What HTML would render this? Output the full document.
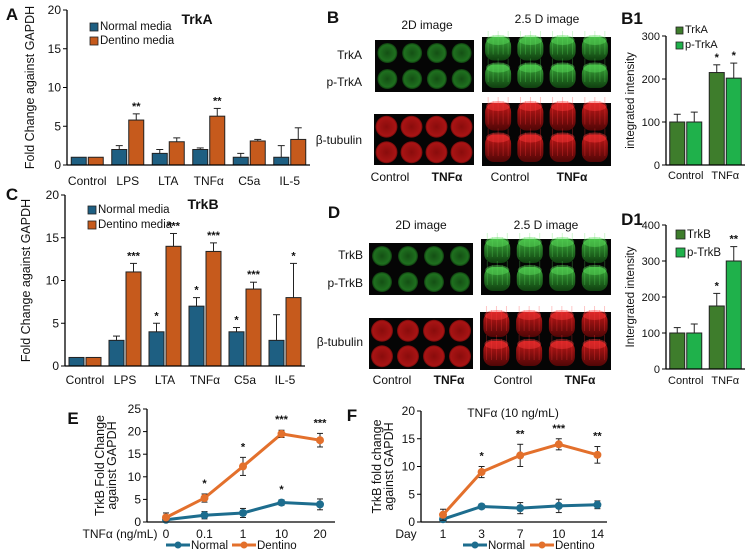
<!DOCTYPE html>
<html><head><meta charset="utf-8">
<style>
html,body{margin:0;padding:0;background:#fff;}
svg{display:block;font-family:"Liberation Sans",Arial,sans-serif;}
</style></head>
<body>
<svg id="fig" width="750" height="556" viewBox="0 0 750 556" xmlns="http://www.w3.org/2000/svg">
<defs>
<radialGradient id="gG" cx="50%" cy="50%" r="50%"><stop offset="0" stop-color="#145014"/><stop offset="0.8" stop-color="#1f701f"/><stop offset="1" stop-color="#0e3a0e"/></radialGradient>
<radialGradient id="gR" cx="50%" cy="50%" r="50%"><stop offset="0" stop-color="#8a0c0c"/><stop offset="0.85" stop-color="#a81414"/><stop offset="1" stop-color="#6a0808"/></radialGradient>
<linearGradient id="tG" x1="0" y1="0" x2="0" y2="1"><stop offset="0" stop-color="#3aa83a"/><stop offset="1" stop-color="#0f3f0f"/></linearGradient>
<linearGradient id="tR" x1="0" y1="0" x2="0" y2="1"><stop offset="0" stop-color="#c01818"/><stop offset="1" stop-color="#500606"/></linearGradient>
</defs>
<g id="root"></g>
</svg>
<script>
// ---- Panel A data (TrkA) ----
const catsAC = ["Control","LPS","LTA","TNFα","C5a","IL-5"];
const aNormal = [1,2,1.5,2,1,1];
const aNormalErr = [0,0.5,0.5,0.2,0.5,1.5];
const aDentino = [1,5.8,3,6.3,3.1,3.3];
const aDentinoErr = [0,0.8,0.5,1,0.2,1.5];
const aStarsNormal = ["","","","","",""];
const aStarsDentino = ["","**","","**","",""];
const ticksAC = [0,5,10,15,20];
// ---- Panel C data (TrkB) ----
const cNormal = [1,3,4,7,4,3];
const cNormalErr = [0,0.5,1,1,0.5,3];
const cDentino = [1,11,14,13.4,9,8];
const cDentinoErr = [0,1,1.5,1,0.8,4];
const cStarsNormal = ["","","*","*","*",""];
const cStarsDentino = ["","***","***","***","***","*"];
// ---- B1 ----
const catsB = ["Control","TNFα"];
const b1Trk = [100,215];
const b1TrkErr = [18,18];
const b1P = [100,202];
const b1PErr = [23,35];
const b1StarsTrk = ["","*"];
const b1StarsP = ["","*"];
const ticksB1 = [0,100,200,300];
// ---- D1 ----
const d1Trk = [100,175];
const d1TrkErr = [15,35];
const d1P = [100,300];
const d1PErr = [25,40];
const d1StarsTrk = ["","*"];
const d1StarsP = ["","**"];
const ticksD1 = [0,100,200,300,400];
// ---- E ----
const catsE = ["0","0.1","1","10","20"];
const eNormal = [0.5,1.5,2,4.3,3.9];
const eNormalErr = [0.5,0.8,1,0.6,1.2];
const eDentino = [1,5.3,12.3,19.5,18.1];
const eDentinoErr = [1,0.9,2,0.8,1.5];
const eStarsNormal = ["","","","*",""];
const eStarsDentino = ["","*","*","***","***"];
const ticksE = [0,5,10,15,20,25];
// ---- F ----
const catsF = ["1","3","7","10","14"];
const fNormal = [0.5,2.8,2.5,2.9,3.1];
const fNormalErr = [0.5,0.4,1,1.2,0.7];
const fDentino = [1.3,9,12,14,12.1];
const fDentinoErr = [1,1,2,1,1.5];
const fStarsDentino = ["","*","**","***","**"];
const ticksF = [0,5,10,15,20];

const NS="http://www.w3.org/2000/svg";
const root=document.getElementById('root');
function el(tag,attrs,parent,text){const e=document.createElementNS(NS,tag);for(const k in attrs)e.setAttribute(k,attrs[k]);if(text!==undefined)e.textContent=text;(parent||root).appendChild(e);return e;}
function txt(x,y,s,size,anchor,weight,parent,name){const t=el('text',{x:x,y:y,'font-size':size,'text-anchor':anchor||'middle','font-weight':weight||'normal',fill:'#111'},parent,s);


return t;}

function barChart(o){
  const g=el('g',{});
  
  
  const ymax=o.ticks[o.ticks.length-1];
  const Y=v=>o.y0-(v/ymax)*(o.y0-o.yTop);
  const gw=(o.x1-o.x0)/o.cats.length;
  const X=i=>o.x0+gw*(i+0.5);
  o.ticks.forEach(t=>{el('line',{x1:o.x0-4,x2:o.x0,y1:Y(t),y2:Y(t),stroke:'#000'},g);txt(o.x0-6,Y(t)+4,String(t),o.fs,'end','normal',g,'y-tick-label');});
  const series=[[o.s1,o.e1,o.c1,o.st1,-1],[o.s2,o.e2,o.c2,o.st2,1]];
  series.forEach(([vals,errs,col,stars,side],si)=>{
    vals.forEach((v,i)=>{
      const cx=X(i);const bx=side<0?cx-o.bw-1:cx+1;
      const r=el('rect',{x:bx,y:Y(v),width:o.bw,height:o.y0-Y(v),fill:col,stroke:'#222','stroke-width':1},g);
      
      
      const m=bx+o.bw/2;
      if(errs[i]>0){el('line',{x1:m,x2:m,y1:Y(v),y2:Y(v+errs[i]),stroke:'#222'},g);el('line',{x1:m-3.5,x2:m+3.5,y1:Y(v+errs[i]),y2:Y(v+errs[i]),stroke:'#222'},g);}
      if(stars[i])txt(m,Y(v+errs[i])-4,stars[i],11,'middle','bold',g,'significance-star');
    });
  });
  el('line',{x1:o.x0,x2:o.x0,y1:o.yTop,y2:o.y0,stroke:'#000','stroke-width':1.3},g);
  el('line',{x1:o.x0,x2:o.x1,y1:o.y0,y2:o.y0,stroke:'#000','stroke-width':1.3},g);
  o.cats.forEach((c,i)=>txt(X(i),o.labY,c,o.fs,'middle','normal',g,'x-tick-label'));
  const yl=txt(0,0,o.ylab,o.yfs,'middle','normal',g,'y-axis-title');
  yl.setAttribute('transform','translate('+o.ylx+','+((o.yTop+o.y0)/2)+') rotate(-90)');
  return g;
}
function legendBox(x,y,col,label,fs,sz){
  const r=el('rect',{x:x,y:y-sz+1,width:sz,height:sz,fill:col,stroke:'#222','stroke-width':0.8});
  
  
  txt(x+sz+2,y,label,fs,'start','normal',root,'legend-entry');
}
const BLUE='#1e5f82',ORANGE='#c65a1c',DG='#3e7d2c',LG='#1fb14b';

// Panel A
barChart({name:'panel-a-chart',cats:catsAC,s1:aNormal,e1:aNormalErr,s2:aDentino,e2:aDentinoErr,st1:aStarsNormal,st2:aStarsDentino,c1:BLUE,c2:ORANGE,ticks:ticksAC,x0:67,x1:310,y0:165,yTop:10,bw:15,fs:12,labY:185,ylab:'Fold Change against GAPDH',ylx:34,yfs:12.5});
txt(12,20,'A',17,'middle','bold',root,'panel-letter-a');
txt(197,24,'TrkA',14,'middle','bold',root,'chart-title-a');
legendBox(90,30,BLUE,'Normal media',11.5,8);legendBox(90,44,ORANGE,'Dentino media',11.5,8);
// Panel C
barChart({name:'panel-c-chart',cats:catsAC,s1:cNormal,e1:cNormalErr,s2:cDentino,e2:cDentinoErr,st1:cStarsNormal,st2:cStarsDentino,c1:BLUE,c2:ORANGE,ticks:ticksAC,x0:65,x1:305,y0:366,yTop:195,bw:15,fs:12,labY:384,ylab:'Fold Change against GAPDH',ylx:30,yfs:12.5});
txt(12,200,'C',17,'middle','bold',root,'panel-letter-c');
txt(203,209,'TrkB',14,'middle','bold',root,'chart-title-c');
legendBox(88,213,BLUE,'Normal media',11.5,8);legendBox(88,228,ORANGE,'Dentino media',11.5,8);
// B1
barChart({name:'panel-b1-chart',cats:catsB,s1:b1Trk,e1:b1TrkErr,s2:b1P,e2:b1PErr,st1:b1StarsTrk,st2:b1StarsP,c1:DG,c2:LG,ticks:ticksB1,x0:666,x1:745,y0:165,yTop:36,bw:15,fs:11,labY:179,ylab:'integrated intensity',ylx:634,yfs:11.5});
txt(632,24,'B1',17,'middle','bold',root,'panel-letter-b1');
legendBox(676,33,DG,'TrkA',11,7);legendBox(676,48,LG,'p-TrkA',11,7);
// D1
barChart({name:'panel-d1-chart',cats:catsB,s1:d1Trk,e1:d1TrkErr,s2:d1P,e2:d1PErr,st1:d1StarsTrk,st2:d1StarsP,c1:DG,c2:LG,ticks:ticksD1,x0:666,x1:745,y0:369,yTop:225,bw:15,fs:11,labY:384,ylab:'Intergrated intensity',ylx:634,yfs:11.5});
txt(632,225,'D1',17,'middle','bold',root,'panel-letter-d1');
legendBox(676,238,DG,'TrkB',11.5,9);legendBox(676,256,LG,'p-TrkB',11.5,9);

// Line charts
function lineChart(o){
  const g=el('g',{});
  
  
  const ymax=o.ticks[o.ticks.length-1];
  const Y=v=>o.y0-(v/ymax)*(o.y0-o.yTop);
  const X=i=>o.xs0+i*o.dx;
  o.ticks.forEach(t=>{el('line',{x1:o.x0-4,x2:o.x0,y1:Y(t),y2:Y(t),stroke:'#000'},g);txt(o.x0-6,Y(t)+4,String(t),12,'end','normal',g,'y-tick-label');});
  el('line',{x1:o.x0,x2:o.x0,y1:o.yTop,y2:o.y0,stroke:'#000','stroke-width':1.3},g);
  el('line',{x1:o.x0,x2:o.x1,y1:o.y0,y2:o.y0,stroke:'#000','stroke-width':1.3},g);
  [[o.s1,o.e1,'#1d6d8e',o.st1,'series-normal'],[o.s2,o.e2,'#e3702c',o.st2,'series-dentino']].forEach(([vals,errs,col,stars,nm])=>{
    const pts=vals.map((v,i)=>X(i)+','+Y(v)).join(' ');
    const pl=el('polyline',{points:pts,fill:'none',stroke:col,'stroke-width':3},g);
    
    
    vals.forEach((v,i)=>{
      const x=X(i);
      el('line',{x1:x,x2:x,y1:Y(v-errs[i]),y2:Y(v+errs[i]),stroke:'#222'},g);
      el('line',{x1:x-3,x2:x+3,y1:Y(v-errs[i]),y2:Y(v-errs[i]),stroke:'#222'},g);
      el('line',{x1:x-3,x2:x+3,y1:Y(v+errs[i]),y2:Y(v+errs[i]),stroke:'#222'},g);
      const c=el('circle',{cx:x,cy:Y(v),r:4,fill:col},g);
      
      
      if(stars&&stars[i])txt(x,Y(v+errs[i])-7,stars[i],11,'middle','bold',g,'significance-star');
    });
  });
  o.cats.forEach((c,i)=>txt(X(i),o.labY,c,12,'middle','normal',g,'x-tick-label'));
  const mid=(o.yTop+o.y0)/2;
  const l1=txt(0,0,o.yl1,12.5,'middle','normal',g,'y-axis-title');l1.setAttribute('transform','translate('+o.ylx+','+mid+') rotate(-90)');
  const l2=txt(0,0,o.yl2,12.5,'middle','normal',g,'y-axis-title');l2.setAttribute('transform','translate('+(o.ylx+12)+','+mid+') rotate(-90)');
  [[o.lgx1,'#1d6d8e','Normal'],[o.lgx2,'#e3702c','Dentino']].forEach(([lx,col,lab])=>{
    el('line',{x1:lx,x2:lx+24,y1:o.lgy-4,y2:o.lgy-4,stroke:col,'stroke-width':3},g);
    el('circle',{cx:lx+12,cy:o.lgy-4,r:3.5,fill:col},g);
    txt(lx+25,o.lgy,lab,11.5,'start','normal',g,'legend-entry');
  });
}
lineChart({name:'panel-e-chart',cats:catsE,s1:eNormal,e1:eNormalErr,s2:eDentino,e2:eDentinoErr,st1:eStarsNormal,st2:eStarsDentino,ticks:ticksE,x0:147,x1:335,xs0:166,dx:38.5,y0:522,yTop:409,labY:538,yl1:'TrkB Fold Change',yl2:'against GAPDH',ylx:104,lgx1:166,lgx2:232,lgy:549});
txt(73,424,'E',17,'middle','bold',root,'panel-letter-e');
txt(120,538,'TNFα (ng/mL)',12,'middle','normal',root,'x-axis-title-e');
lineChart({name:'panel-f-chart',cats:catsF,s1:fNormal,e1:fNormalErr,s2:fDentino,e2:fDentinoErr,st1:null,st2:fStarsDentino,ticks:ticksF,x0:421,x1:607,xs0:443,dx:38.6,y0:522,yTop:411,labY:538,yl1:'TrkB fold change',yl2:'against GAPDH',ylx:381,lgx1:463,lgx2:530,lgy:549});
txt(352,421,'F',17,'middle','bold',root,'panel-letter-f');
txt(406,538,'Day',12,'middle','normal',root,'x-axis-title-f');
txt(513,417,'TNFα (10 ng/mL)',12,'middle','normal',root,'chart-title-f');

// Microscopy panels
function plate2D(x,y,w,h,grad,r,name){
  const g=el('g',{});
  
  
  el('rect',{x:x,y:y,width:w,height:h,fill:'#050505'},g);
  for(let row=0;row<2;row++)for(let c=0;c<4;c++)
    el('circle',{cx:x+w/8*(2*c+1),cy:y+h/4*(2*row+1),r:r,fill:'url(#'+grad+')'},g);
}
function plate25(x,y,w,h,grad,name,spike){
  const g=el('g',{});
  
  
  el('rect',{x:x,y:y,width:w,height:h,fill:'#050505'},g);
  for(let row=0;row<2;row++)for(let c=0;c<4;c++){
    const cx=x+w/8*(2*c+1), top=y+(row===0?-6:h/2-6), bh=h/2+2;
    el('rect',{x:cx-13,y:top+6,width:26,height:bh-6,rx:9,fill:'url(#'+grad+')'},g);
    el('ellipse',{cx:cx,cy:top+9,rx:12,ry:5,fill:spike,opacity:0.45},g);
    for(let k=-2;k<=2;k++)el('line',{x1:cx+k*5,x2:cx+k*5,y1:top+(k%2?4:0),y2:top+bh-6,stroke:spike,'stroke-width':0.8,opacity:0.35},g);
  }
}
// B
txt(333,23,'B',17,'middle','bold',root,'panel-letter-b');
txt(427,29,'2D image',12,'middle','normal',root,'label-2d');
txt(547,23,'2.5 D image',12,'middle','normal',root,'label-25d');
txt(362,59,'TrkA',12,'end','normal',root,'row-label');
txt(362,86,'p-TrkA',12,'end','normal',root,'row-label');
txt(362,144,'β-tubulin',12,'end','normal',root,'row-label');
plate2D(375,40,99,52,'gG',10,'b-2d-green');
plate25(482,37,129,55,'tG','b-25d-green','#5ee05e');
plate2D(374,114,100,51,'gR',11,'b-2d-red');
plate25(482,103,129,63,'tR','b-25d-red','#ff3a3a');
txt(390,181,'Control',12,'middle','normal',root,'x-label');
txt(447,181,'TNFα',12,'middle','bold',root,'x-label');
txt(510,181,'Control',12,'middle','normal',root,'x-label');
txt(572,181,'TNFα',12,'middle','bold',root,'x-label');
// D
txt(334,218,'D',17,'middle','bold',root,'panel-letter-d');
txt(421,229,'2D image',12,'middle','normal',root,'label-2d');
txt(546,229,'2.5 D image',12,'middle','normal',root,'label-25d');
txt(363,259,'TrkB',12,'end','normal',root,'row-label');
txt(363,287,'p-TrkB',12,'end','normal',root,'row-label');
txt(363,346,'β-tubulin',12,'end','normal',root,'row-label');
plate2D(369,243,104,52,'gG',10,'d-2d-green');
plate25(481,239,130,56,'tG','d-25d-green','#5ee05e');
plate2D(369,318,104,51,'gR',11,'d-2d-red');
plate25(480,312,131,58,'tR','d-25d-red','#ff3a3a');
txt(392,384,'Control',12,'middle','normal',root,'x-label');
txt(449,384,'TNFα',12,'middle','bold',root,'x-label');
txt(513,384,'Control',12,'middle','normal',root,'x-label');
txt(580,384,'TNFα',12,'middle','bold',root,'x-label');
</script>
</body></html>
